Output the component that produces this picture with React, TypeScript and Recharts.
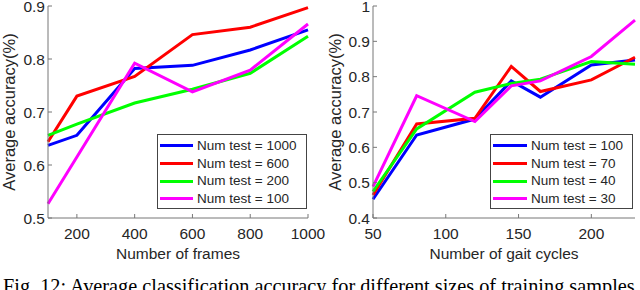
import { LineChart, Line, XAxis, YAxis, Legend, Label } from "recharts";

// left panel: accuracy vs number of frames
const frames = [100, 200, 400, 600, 800, 1000];
const framesTest1000 = [0.637, 0.656, 0.782, 0.788, 0.817, 0.855];
const framesTest600 = [0.644, 0.73, 0.767, 0.846, 0.86, 0.897];
const framesTest200 = [0.656, 0.677, 0.717, 0.743, 0.773, 0.843];
const framesTest100 = [0.527, 0.615, 0.792, 0.738, 0.779, 0.866];
const framesTicksX = [200, 400, 600, 800, 1000];
const framesTicksY = [0.5, 0.6, 0.7, 0.8, 0.9];
const framesNames = ["Num test = 1000", "Num test = 600", "Num test = 200", "Num test = 100"];

// right panel: accuracy vs number of gait cycles
const cycles = [50, 80, 120, 145, 165, 200, 230];
const cyclesTest100 = [0.453, 0.635, 0.68, 0.788, 0.742, 0.833, 0.847];
const cyclesTest70 = [0.465, 0.666, 0.682, 0.829, 0.758, 0.791, 0.855];
const cyclesTest40 = [0.475, 0.652, 0.756, 0.781, 0.793, 0.843, 0.835];
const cyclesTest30 = [0.489, 0.746, 0.673, 0.774, 0.788, 0.857, 0.96];
const cyclesTicksX = [50, 100, 150, 200];
const cyclesTicksY = [0.4, 0.5, 0.6, 0.7, 0.8, 0.9, 1];
const cyclesNames = ["Num test = 100", "Num test = 70", "Num test = 40", "Num test = 30"];

const colors = ["#0000ff", "#ff0000", "#00ff00", "#ff00ff"];
const caption =
  "Fig. 12: Average classification accuracy for different sizes of training samples.";

const FONT = "'Liberation Sans', Arial, Helvetica, sans-serif";
const AXIS = "#777777";
const TEXT = "#262626";

const framesData = frames.map((x, i) => ({
  x,
  s0: framesTest1000[i],
  s1: framesTest600[i],
  s2: framesTest200[i],
  s3: framesTest100[i],
}));

const cyclesData = cycles.map((x, i) => ({
  x,
  s0: cyclesTest100[i],
  s1: cyclesTest70[i],
  s2: cyclesTest40[i],
  s3: cyclesTest30[i],
}));

const fmtY = (v: number) => (v === 1 ? "1" : String(v));
const blank = () => "";

function BoxLegend({ payload, lineW }: any) {
  // keep series order (legend sorts by name otherwise)
  const items = [...(payload || [])].sort((a: any, b: any) =>
    String(a.dataKey).localeCompare(String(b.dataKey))
  );
  return (
    <div
      style={{
        border: "1px solid #444",
        background: "#fff",
        boxSizing: "border-box",
        width: "100%",
        height: "100%",
        paddingTop: 2,
        fontFamily: FONT,
      }}
    >
      {items.map((p: any) => (
        <div key={p.value} style={{ display: "flex", alignItems: "center", height: 17.7 }}>
          <span style={{ width: lineW, height: 3, background: p.color, marginLeft: 2 }} />
          <span style={{ marginLeft: 4, fontSize: 13.5, color: TEXT, lineHeight: 1, whiteSpace: "nowrap" }}>
            {p.value}
          </span>
        </div>
      ))}
    </div>
  );
}

function Panel({
  data,
  width,
  marginRight,
  yWidth,
  xDomain,
  xTicks,
  yDomain,
  yTicks,
  names,
  xLabel,
  yLabelOffset,
  legendBox,
  lineW,
}: any) {
  const tickStyle = { fill: TEXT, fontSize: 15.5, fontFamily: FONT };
  return (
    <LineChart width={width} height={290} data={data} margin={{ top: 6, right: marginRight, bottom: 0, left: 0 }}>
      <XAxis
        dataKey="x"
        type="number"
        domain={xDomain}
        ticks={xTicks}
        height={72}
        stroke={AXIS}
        tickSize={-4}
        tickMargin={14}
        tick={tickStyle}
        interval={0}
      >
        <Label value={xLabel} position="insideBottom" offset={31} fill={TEXT} fontSize={15.5} fontFamily={FONT} />
      </XAxis>
      <XAxis
        xAxisId="top"
        orientation="top"
        dataKey="x"
        type="number"
        domain={xDomain}
        ticks={xTicks}
        height={0}
        stroke={AXIS}
        tickSize={-4}
        tickFormatter={blank}
        interval={0}
      />
      <YAxis
        type="number"
        domain={yDomain}
        ticks={yTicks}
        width={yWidth}
        stroke={AXIS}
        tickSize={-4}
        tickMargin={7}
        tick={tickStyle}
        tickFormatter={fmtY}
        interval={0}
      >
        <Label
          value="Average accuracy(%)"
          angle={-90}
          position="insideLeft"
          offset={yLabelOffset}
          fill={TEXT}
          fontSize={16.5}
          fontFamily={FONT}
          style={{ textAnchor: "middle" }}
        />
      </YAxis>
      <YAxis
        yAxisId="right"
        orientation="right"
        type="number"
        domain={yDomain}
        ticks={yTicks}
        width={0}
        stroke={AXIS}
        tickSize={-4}
        tickFormatter={blank}
        interval={0}
      />
      <Legend
        verticalAlign="middle"
        layout="horizontal"
        content={(props: any) => <BoxLegend {...props} lineW={lineW} />}
        wrapperStyle={{ left: legendBox[0], top: legendBox[1], width: legendBox[2], height: legendBox[3] }}
      />
      {names.map((n: string, i: number) => (
        <Line
          key={n}
          name={n}
          dataKey={`s${i}`}
          type="linear"
          stroke={colors[i]}
          strokeWidth={3}
          dot={false}
          isAnimationActive={false}
        />
      ))}
    </LineChart>
  );
}

export default function App() {
  return (
    <div style={{ position: "absolute", left: 0, top: 0, width: 640, height: 290, background: "#fff", overflow: "hidden" }}>
      <div style={{ position: "absolute", left: 0, top: 0 }}>
        <Panel
          data={framesData}
          width={340}
          marginRight={32}
          yWidth={48}
          xDomain={[100, 1000]}
          xTicks={framesTicksX}
          yDomain={[0.5, 0.9]}
          yTicks={framesTicksY}
          names={framesNames}
          xLabel="Number of frames"
          yLabelOffset={9}
          legendBox={[157, 134, 150, 75]}
          lineW={33}
        />
      </div>
      <div style={{ position: "absolute", left: 320, top: 0 }}>
        <Panel
          data={cyclesData}
          width={320}
          marginRight={5}
          yWidth={53}
          xDomain={[50, 230]}
          xTicks={cyclesTicksX}
          yDomain={[0.4, 1]}
          yTicks={cyclesTicksY}
          names={cyclesNames}
          xLabel="Number of gait cycles"
          yLabelOffset={15}
          legendBox={[170, 134, 143, 75]}
          lineW={34}
        />
      </div>
      <svg width={640} height={290} style={{ position: "absolute", left: 0, top: 0, pointerEvents: "none" }}>
        <text x={3} y={293} fontFamily="'Liberation Serif', 'Times New Roman', serif" fontSize={20.3} fill="#000">
          {caption}
        </text>
      </svg>
    </div>
  );
}
